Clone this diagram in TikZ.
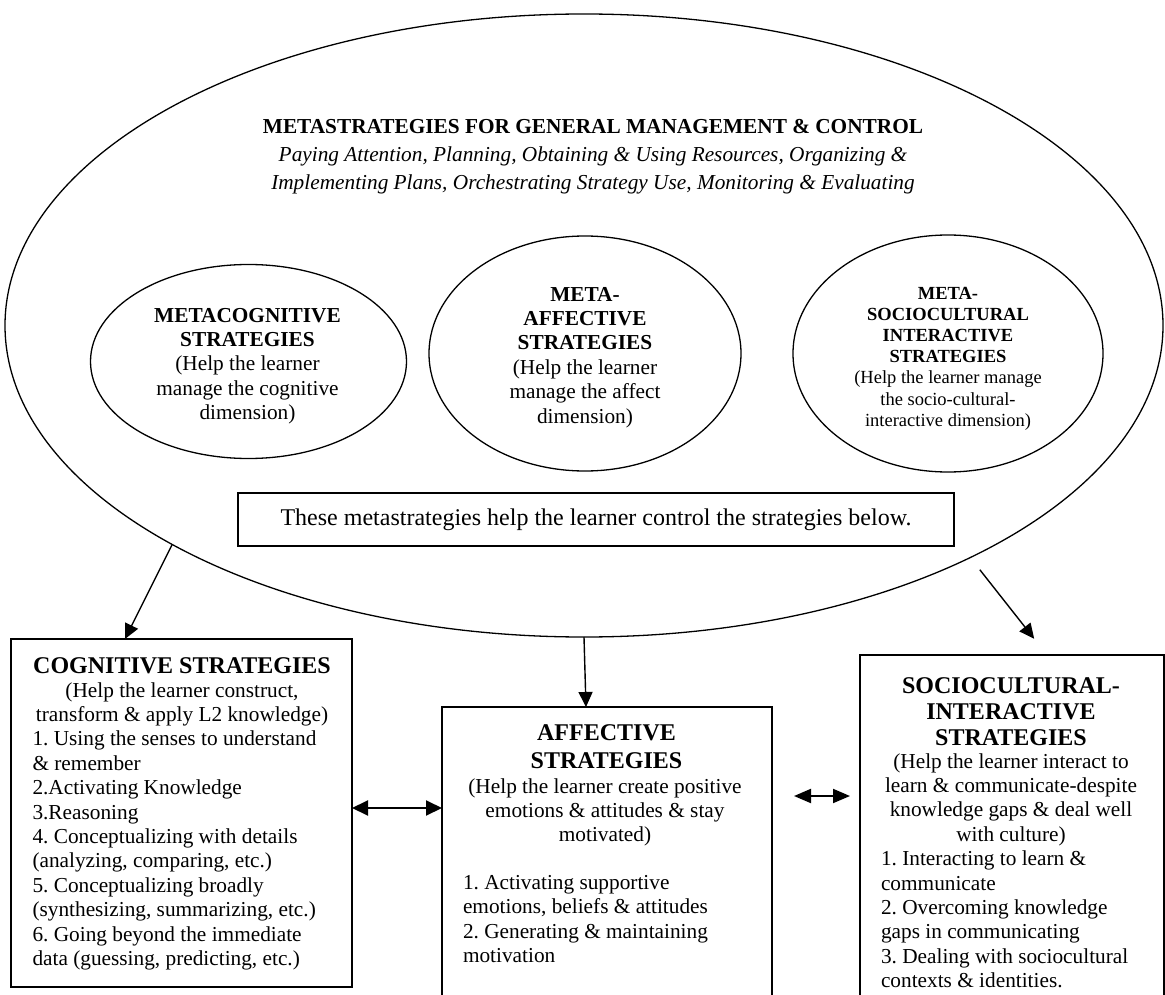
\documentclass[tikz,border=0pt]{standalone}
\usepackage{fontspec}
\setmainfont{Liberation Serif}
\usetikzlibrary{arrows.meta,shapes.geometric,calc}
\newcommand\bodyfnt{\fontsize{21.3}{24.4}\selectfont\frenchspacing}
\newcommand\headfnt{\fontsize{24}{28}\selectfont\bfseries}
\newcommand\smallfnt{\fontsize{18.5}{21.2}\selectfont}
\begin{document}
\begin{tikzpicture}[x=1pt,y=-1pt,
  every node/.style={inner sep=0pt, outer sep=0pt},
  bx/.style={draw, line width=1.8pt, rectangle, anchor=north west},
  ell/.style={draw, ellipse, line width=1.3pt},
  arr/.style={line width=1.4pt, -{Triangle[length=15pt,width=14pt]}},
  dbl/.style={line width=2pt, {Triangle[length=16pt,width=15pt]}-{Triangle[length=16pt,width=15pt]}},
  dbltwo/.style={line width=2pt, {Triangle[length=17pt,width=14pt]}-{Triangle[length=17pt,width=14pt]}},
  txt/.style={font=\bodyfnt, anchor=base},
  stxt/.style={font=\smallfnt, anchor=base}]
\useasboundingbox (0,0) rectangle (1165,995);
% big ellipse
\node[ell, minimum width=1158pt, minimum height=623pt] (meta) at (584,325.5) {};
\node[txt, align=center, font=\fontsize{21.3}{28}\selectfont] (title) at (593,190)
  {\textbf{METASTRATEGIES FOR GENERAL MANAGEMENT \& CONTROL}\\
   \textit{Paying Attention, Planning, Obtaining \& Using Resources, Organizing \&}\\
   \textit{Implementing Plans, Orchestrating Strategy Use, Monitoring \& Evaluating}};
% small ellipses
\node[ell, minimum width=316pt, minimum height=194pt] (mcog) at (248.5,361.5) {};
\node[txt, align=center] (mcogt) at (247.5,419.6)
  {\textbf{METACOGNITIVE}\\ \textbf{STRATEGIES}\\ (Help the learner\\ manage the cognitive\\ dimension)};
\node[ell, minimum width=312pt, minimum height=235pt] (maff) at (585,353.5) {};
\node[txt, align=center] (mafft) at (585,423)
  {\textbf{META-}\\ \textbf{AFFECTIVE}\\ \textbf{STRATEGIES}\\ (Help the learner\\ manage the affect\\ dimension)};
\node[ell, minimum width=310pt, minimum height=237pt] (msoc) at (948,353.5) {};
\node[stxt, align=center] (msoct) at (948,426.2)
  {\textbf{META-}\\ \textbf{SOCIOCULTURAL}\\ \textbf{INTERACTIVE}\\ \textbf{STRATEGIES}\\ (Help the learner manage\\ the socio-cultural-\\ interactive dimension)};
% control box
\node[draw, line width=1.8pt, minimum width=716pt, minimum height=53pt, font=\fontsize{24}{28}\selectfont] (ctrl) at (596,519.5)
  {These metastrategies help the learner control the strategies below.};
% cognitive box
\node[bx, minimum width=341pt, minimum height=348pt] (cog) at (11,639) {};
\node[anchor=base, font=\headfnt] (cogh) at (182,673) {COGNITIVE STRATEGIES};
\node[txt, align=center] (cogs) at (182,721.4) {(Help the learner construct,\\ transform \& apply L2 knowledge)};
\node[txt, anchor=base west, align=left] (cogl) at (32.5,965.4)
  {1. Using the senses to understand\\ \& remember\\ 2.Activating Knowledge\\ 3.Reasoning\\
   4. Conceptualizing with details\\ (analyzing, comparing, etc.)\\ 5. Conceptualizing broadly\\
   (synthesizing, summarizing, etc.)\\ 6. Going beyond the immediate\\ data (guessing, predicting, etc.)};
% affective box
\node[bx, minimum width=330pt, minimum height=300pt] (aff) at (442,707) {};
\node[anchor=base, align=center, font=\headfnt] (affh) at (606.5,768) {AFFECTIVE\\ STRATEGIES};
\node[txt, align=center] (affs) at (605,841.8) {(Help the learner create positive\\ emotions \& attitudes \& stay\\ motivated)};
\node[txt, anchor=base west, align=left] (affl) at (463,962.7)
  {1. Activating supportive\\ emotions, beliefs \& attitudes\\ 2. Generating \& maintaining\\ motivation};
% sociocultural box
\node[bx, minimum width=304pt, minimum height=352pt] (soc) at (860,655) {};
\node[anchor=base, align=center, font=\fontsize{24}{26}\selectfont\bfseries] (soch) at (1011,745) {SOCIOCULTURAL-\\ INTERACTIVE\\ STRATEGIES};
\node[txt, align=center] (socs) at (1011,841.2) {(Help the learner interact to\\ learn \& communicate-despite\\ knowledge gaps \& deal well\\ with culture)};
\node[txt, anchor=base west, align=left] (socl) at (881,987.6)
  {1. Interacting to learn \&\\ communicate\\ 2. Overcoming knowledge\\ gaps in communicating\\ 3. Dealing with sociocultural\\ contexts \& identities.};
% arrows
\draw[arr] (meta.208.4) -- (cog.108);
\draw[arr] (meta.south) -- ($(aff.north west)+(144,0)$);
\draw[arr, shorten <=15.5pt, shorten >=20.7pt] (meta.329.8) -- ($(soc.north west)+(187,0)$);
\draw[dbl] (cog.east |- 0,808) -- (aff.west |- 0,808);
\coordinate (d1) at (794,796);
\coordinate (d2) at (850,796);
\draw[dbltwo] (d1) -- (d2);
\end{tikzpicture}
\end{document}
